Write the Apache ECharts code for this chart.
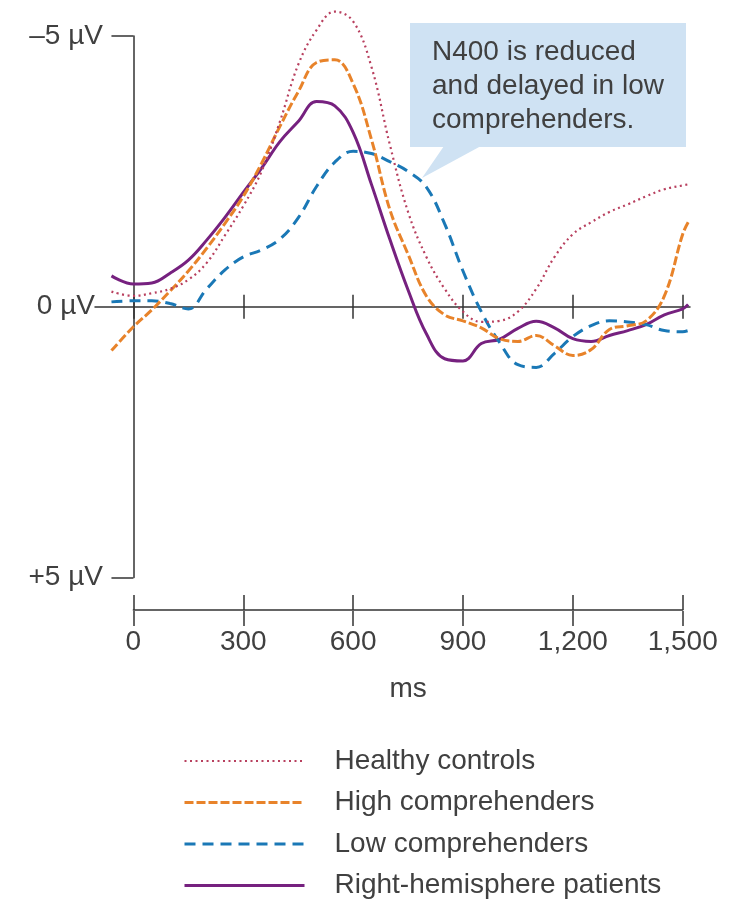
<!DOCTYPE html>
<html>
<head>
<meta charset="utf-8">
<script src="https://cdn.jsdelivr.net/npm/echarts@6/dist/echarts.min.js"></script>
<style>
  html, body { margin: 0; padding: 0; background: #fff; }
  #chart { width: 744px; height: 904px; }
</style>
</head>
<body>
<div id="chart"></div>
<script>
// time points (ms)
const times = [-60, 0, 50, 100, 150, 200, 250, 300, 350, 400, 450, 500, 550, 600, 650, 700, 750,
  800, 850, 900, 950, 1000, 1050, 1100, 1150, 1200, 1250, 1300, 1350, 1400, 1450, 1500, 1515]

// amplitudes in µV (negative is up)
const healthy = [-0.28, -0.2, -0.25, -0.33, -0.5, -0.81, -1.32, -1.86, -2.5, -3.42, -4.47, -5.11, -5.45,
  -5.27, -4.43, -3.0, -1.75, -0.92, -0.33, 0.09, 0.28, 0.26, 0.09, -0.33, -0.92, -1.34, -1.56,
  -1.75, -1.89, -2.04, -2.17, -2.24, -2.26]
const highComp = [0.81, 0.37, 0.06, -0.29, -0.66, -1.08, -1.54, -2.04, -2.65, -3.33, -3.97, -4.51, -4.56,
  -4.12, -3.09, -1.8, -0.97, -0.2, 0.15, 0.26, 0.39, 0.59, 0.64, 0.53, 0.72, 0.9, 0.79,
  0.42, 0.35, 0.26, -0.2, -1.34, -1.56]
const lowComp = [-0.09, -0.11, -0.11, -0.06, 0.04, -0.33, -0.68, -0.92, -1.05, -1.25, -1.64, -2.22, -2.67,
  -2.87, -2.83, -2.68, -2.5, -2.21, -1.53, -0.66, 0.09, 0.66, 1.07, 1.12, 0.86, 0.55, 0.35,
  0.26, 0.28, 0.33, 0.44, 0.46, 0.44]
const rightHemi = [-0.57, -0.42, -0.44, -0.62, -0.86, -1.23, -1.65, -2.11, -2.56, -3.05, -3.42, -3.79, -3.71,
  -3.22, -2.26, -1.25, -0.31, 0.5, 0.96, 1.0, 0.68, 0.6, 0.4, 0.27, 0.39, 0.59, 0.64,
  0.53, 0.44, 0.33, 0.15, 0.04, -0.04]

const seriesNames = ['Healthy controls', 'High comprehenders', 'Low comprehenders', 'Right-hemisphere patients']
const xTicks = [0, 300, 600, 900, 1200, 1500]
const yTicks = [-5, 0, 5]
const yTickLabels = ['–5 µV', '0 µV', '+5 µV']
const note = 'N400 is reduced\nand delayed in low\ncomprehenders.'

const font = 'Liberation Sans, Arial, sans-serif'
const textColor = '#404040'
const axisColor = '#333'

const chart = echarts.init(document.getElementById('chart'))

const pairs = (vals) => times.map((t, i) => [t, vals[i]])
const fmtMs = (v) => String(v).replace(/\B(?=(\d{3})+(?!\d))/g, ',')

const styles = [
  { color: '#b8405f', width: 2.2, type: [2, 3.5] },
  { color: '#e8832a', width: 3, type: [9, 3] },
  { color: '#1a78b6', width: 3, type: [11, 7] },
  { color: '#76217f', width: 3, type: 'solid' },
]
const allData = [healthy, highComp, lowComp, rightHemi]

const option = {
  animation: false,
  textStyle: { fontFamily: font },
  grid: [
    { left: 95, width: 595, top: 36, height: 541.5, outerBoundsMode: 'none', containLabel: false },
    { left: 133.4, width: 549.3, top: 610, height: 1, outerBoundsMode: 'none', containLabel: false },
  ],
  xAxis: [
    {
      gridIndex: 0, type: 'value', min: -105, max: 1520,
      axisLine: { onZero: true, onZeroAxisIndex: 0, lineStyle: { color: axisColor, width: 1.5 } },
      axisTick: { customValues: xTicks, length: 12, lineStyle: { color: axisColor, width: 1.5 } },
      axisLabel: { show: false }, splitLine: { show: false },
    },
    {
      gridIndex: 0, type: 'value', position: 'top', min: -105, max: 1520,
      axisLine: { show: false, onZero: true, onZeroAxisIndex: 0 },
      axisTick: { customValues: xTicks, length: 12, lineStyle: { color: axisColor, width: 1.5 } },
      axisLabel: { show: false }, splitLine: { show: false },
    },
    {
      gridIndex: 1, type: 'value', position: 'top', min: 0, max: 1500, interval: 300,
      axisLine: { onZero: false, lineStyle: { color: axisColor, width: 1.5 } },
      axisTick: { length: 15, lineStyle: { color: axisColor, width: 1.5 } },
      axisLabel: { show: false }, splitLine: { show: false },
    },
    {
      gridIndex: 1, type: 'value', position: 'bottom', min: 0, max: 1500, interval: 300,
      axisLine: { show: false, onZero: false },
      axisTick: { length: 15, lineStyle: { color: axisColor, width: 1.5 } },
      axisLabel: { margin: 17, fontSize: 28, color: textColor, fontFamily: font, formatter: fmtMs },
      splitLine: { show: false },
      name: 'ms', nameLocation: 'middle', nameGap: 64,
      nameTextStyle: { fontSize: 28, color: textColor, fontFamily: font },
    },
  ],
  yAxis: [
    {
      gridIndex: 0, type: 'value', inverse: true, min: -5, max: 5,
      axisLine: { onZero: true, onZeroAxisIndex: 0, lineStyle: { color: axisColor, width: 1.5 } },
      axisTick: { customValues: [-5, 5], length: 22, lineStyle: { color: axisColor, width: 1.5 } },
      axisLabel: {
        customValues: yTicks, margin: -8, fontSize: 28, color: textColor, fontFamily: font,
        formatter: (v) => {
          const s = yTickLabels[yTicks.indexOf(v)]
          return v === 0 ? '{z|' + s + '}' : s
        },
        rich: { z: { fontSize: 28, color: textColor, fontFamily: font, padding: [0, 8, 0, 0] } },
      },
      splitLine: { show: false },
    },
    { gridIndex: 1, type: 'value', show: false },
  ],
  legend: {
    orient: 'vertical', left: 183, top: 747, padding: 0,
    itemWidth: 120, itemHeight: 14, itemGap: 13.5,
    data: seriesNames,
    itemStyle: { opacity: 0 },
    lineStyle: { width: 'inherit' },
    textStyle: { fontSize: 28, color: textColor, fontFamily: font, lineHeight: 28, padding: [0, 0, 0, 25] },
  },
  graphic: [
    { type: 'rect', z: 100, shape: { x: 410, y: 23, width: 276, height: 124 }, style: { fill: '#cfe2f3' } },
    { type: 'polygon', z: 100, shape: { points: [[444, 146], [481, 146], [422, 178]] }, style: { fill: '#cfe2f3' } },
    {
      type: 'text', z: 101, x: 432, y: 35,
      style: { text: note, fontSize: 28, lineHeight: 34, fontFamily: font, fill: textColor, verticalAlign: 'top' },
    },
  ],
  series: seriesNames.map((name, i) => ({
    name,
    type: 'line',
    xAxisIndex: 0,
    yAxisIndex: 0,
    data: pairs(allData[i]),
    smooth: 0.4,
    clip: false,
    symbol: 'none',
    color: styles[i].color,
    lineStyle: styles[i],
    z: 10 - i,
  })),
}

chart.setOption(option)
</script>
</body>
</html>
